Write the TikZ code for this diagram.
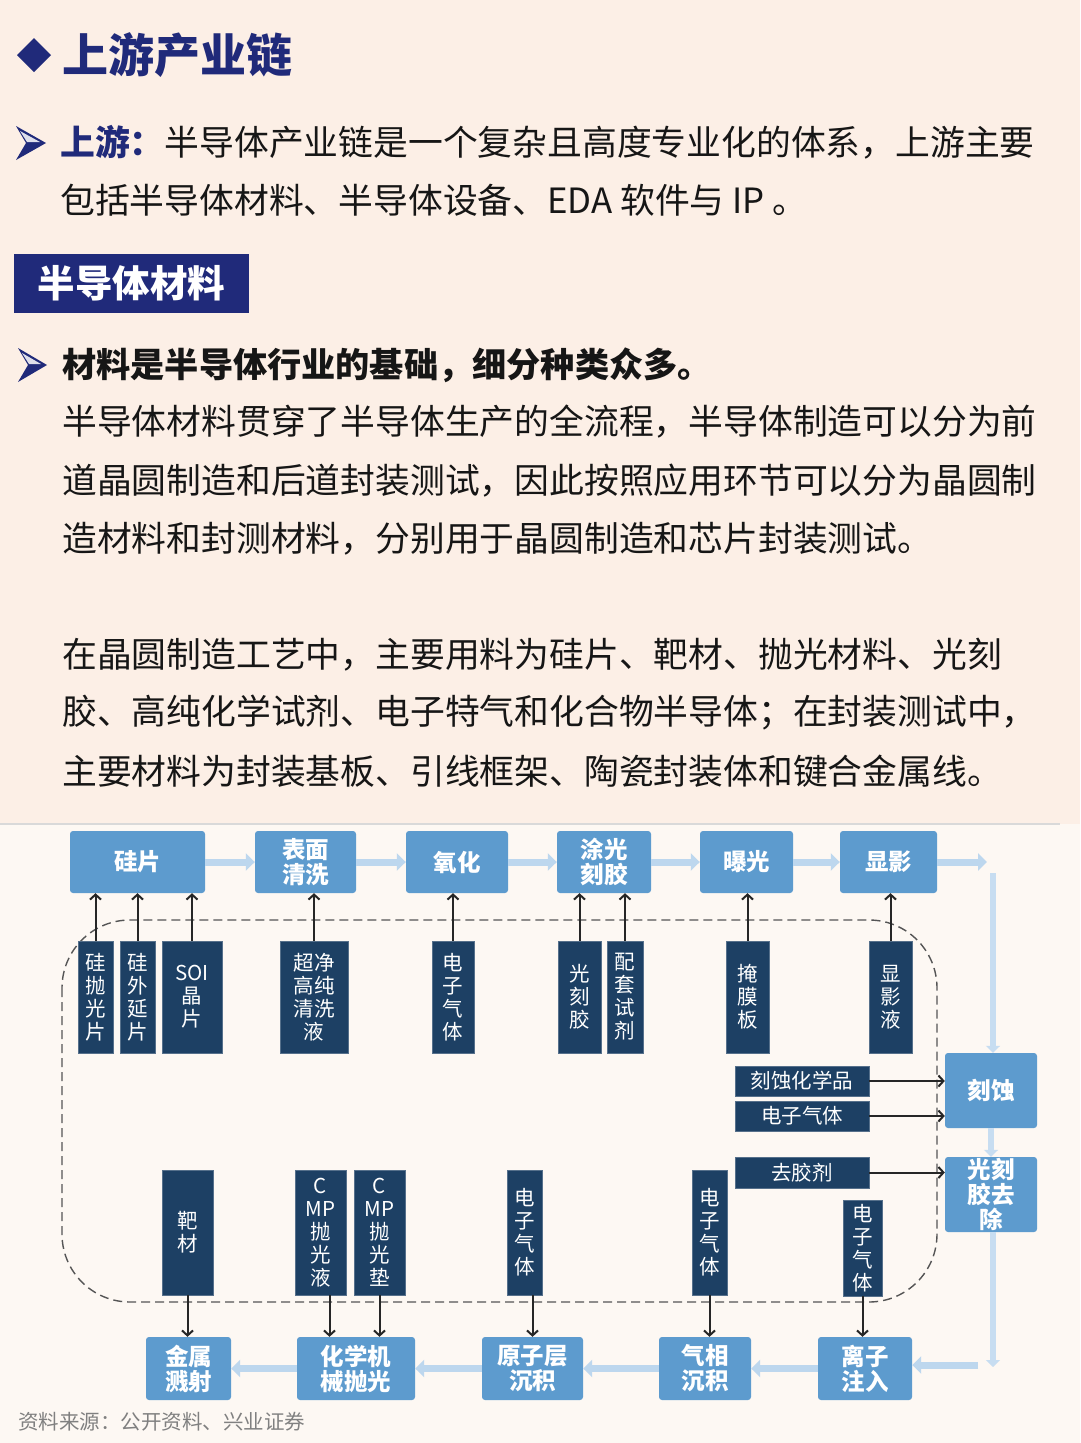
\documentclass[tikz,border=0pt]{standalone}
\usepackage{fontspec}
\setmainfont{Noto Sans CJK SC}
\usetikzlibrary{arrows.meta}
\definecolor{bgtop}{RGB}{252,239,230}
\definecolor{bgbot}{RGB}{253,248,243}
\definecolor{navy}{RGB}{32,42,122}
\definecolor{procblue}{RGB}{93,155,206}
\definecolor{flowblue}{RGB}{189,215,238}
\definecolor{darkbox}{RGB}{29,64,100}
\definecolor{txt}{RGB}{22,22,22}
\definecolor{dashgray}{RGB}{85,85,85}
\begin{document}
\begin{tikzpicture}[x=1pt,y=-1pt,
  proc/.style={fill=procblue,rounded corners=3pt,inner sep=0pt,text=white,font=\fontsize{23.5}{25}\selectfont\bfseries,align=center},
  mat/.style={fill=darkbox,draw=darkbox!75!white,line width=0.6pt,inner sep=0pt,text=white,font=\fontsize{20.5}{23}\selectfont,align=center},
  flow/.style={draw=flowblue,line width=7pt,-{Triangle[length=9pt,width=17pt]}},
  vflow/.style={draw=flowblue!85!white,line width=6pt,-{Triangle[length=7pt,width=14pt]}},
  feed/.style={draw=black!85,line width=2pt,-{Straight Barb[length=5pt,width=11pt]}},
  body/.style={anchor=west,inner sep=0pt,text=txt,font=\fontsize{34.8}{40}\selectfont},
]
\useasboundingbox (0,0) rectangle (1080,1443);
\fill[bgtop] (0,0) rectangle (1080,824);
\fill[bgbot] (0,824) rectangle (1080,1443);
\draw[black!15,line width=1.5pt] (0,824) -- (1060,824);

% ---------- title ----------
\fill[navy] (34,38) -- (51,55) -- (34,72) -- (17,55) -- cycle;
\node[anchor=west,inner sep=0pt,text=navy,font=\fontsize{46}{50}\selectfont\bfseries] (title) at (62,55) {上游产业链};

% bullet 1
\fill[navy] (16,126) -- (46,143) -- (16,160) -- (26,143) -- cycle;
\fill[white!85!navy] (20,131) -- (40,142) -- (27,142) -- cycle;
\node[body] (l1) at (60,142) {{\color{navy}\bfseries 上游：}半导体产业链是一个复杂且高度专业化的体系，上游主要};
\node[body] (l2) at (60,200) {包括半导体材料、半导体设备、EDA 软件与 IP 。};

% section box
\node[fill=navy,minimum width=235,minimum height=59,inner sep=0pt,text=white,font=\fontsize{37.5}{40}\selectfont\bfseries] (sec) at (131.5,283.5) {半导体材料};

% bullet 2
\fill[navy] (18,348) -- (47,365) -- (18,382) -- (28,365) -- cycle;
\fill[white!85!navy] (22,353) -- (41,364) -- (29,364) -- cycle;
\node[body,font=\fontsize{34.2}{40}\selectfont\bfseries] (h2) at (62,365) {材料是半导体行业的基础，细分种类众多。};
\node[body] (p1) at (62,422) {半导体材料贯穿了半导体生产的全流程，半导体制造可以分为前};
\node[body] (p2) at (62,481) {道晶圆制造和后道封装测试，因此按照应用环节可以分为晶圆制};
\node[body] (p3) at (62,539) {造材料和封测材料，分别用于晶圆制造和芯片封装测试。};
\node[body] (p4) at (62,655) {在晶圆制造工艺中，主要用料为硅片、靶材、抛光材料、光刻};
\node[body] (p5) at (62,713) {胶、高纯化学试剂、电子特气和化合物半导体；在封装测试中，};
\node[body] (p6) at (62,771) {主要材料为封装基板、引线框架、陶瓷封装体和键合金属线。};

% ---------- diagram ----------
\draw[dashgray,line width=1.4pt,dash pattern=on 9pt off 5pt,rounded corners=68pt] (62,920) rectangle (937,1302);

% top process boxes
\node[proc,minimum width=135,minimum height=62] (pa) at (137.5,862) {硅片};
\node[proc,minimum width=101,minimum height=62] (pb) at (305.5,862) {表面\\清洗};
\node[proc,minimum width=102,minimum height=62] (pc) at (457,862) {氧化};
\node[proc,minimum width=94,minimum height=62] (pd) at (604,862) {涂光\\刻胶};
\node[proc,minimum width=93,minimum height=62] (pe) at (746.5,862) {曝光};
\node[proc,minimum width=97,minimum height=62] (pf) at (888.5,862) {显影};
% right column
\node[proc,minimum width=92,minimum height=75] (pg) at (991,1090.5) {刻蚀};
\node[proc,minimum width=92,minimum height=75] (ph) at (991,1194.5) {光刻\\胶去\\除};
% bottom row
\node[proc,minimum width=94,minimum height=63] (pi) at (865,1368.5) {离子\\注入};
\node[proc,minimum width=92,minimum height=63] (pj) at (705,1368.5) {气相\\沉积};
\node[proc,minimum width=101,minimum height=63] (pk) at (532.5,1368.5) {原子层\\沉积};
\node[proc,minimum width=118,minimum height=63] (pl) at (356,1368.5) {化学机\\械抛光};
\node[proc,minimum width=85,minimum height=63] (pm) at (188.5,1368.5) {金属\\溅射};

% flow arrows
\draw[flow] (pa.east) -- (pb.west);
\draw[flow] (pb.east) -- (pc.west);
\draw[flow] (pc.east) -- (pd.west);
\draw[flow] (pd.east) -- (pe.west);
\draw[flow] (pe.east) -- (pf.west);
\coordinate (c1) at (987,862);
\draw[flow] (pf.east) -- (c1);
\coordinate (c2) at (993,873);
\draw[vflow] (c2) -- (c2 |- pg.north);
\draw[vflow] (pg.south) -- (ph.north);
\coordinate (c3) at (993,1367);
\draw[vflow] (c3 |- ph.south) -- (c3);
\coordinate (c4) at (978,1365);
\draw[flow] (c4) -- (c4 -| pi.east);
\draw[flow] (pi.west) -- (pj.east);
\draw[flow] (pj.west) -- (pk.east);
\draw[flow] (pk.west) -- (pl.east);
\draw[flow] (pl.west) -- (pm.east);

% top materials
\node[mat,minimum width=35,minimum height=112] (ma) at (95.5,997) {硅\\抛\\光\\片};
\node[mat,minimum width=35,minimum height=112] (mb) at (137.5,997) {硅\\外\\延\\片};
\node[mat,minimum width=60,minimum height=112] (mc) at (192,997) {SOI\\晶\\片};
\node[mat,minimum width=68,minimum height=112] (md) at (314,997) {超净\\高纯\\清洗\\液};
\node[mat,minimum width=42,minimum height=112] (me) at (453,997) {电\\子\\气\\体};
\node[mat,minimum width=43,minimum height=112] (mf) at (579.5,997) {光\\刻\\胶};
\node[mat,minimum width=36,minimum height=112] (mg) at (625,997) {配\\套\\试\\剂};
\node[mat,minimum width=43,minimum height=112] (mh) at (747.5,997) {掩\\膜\\板};
\node[mat,minimum width=43,minimum height=112] (mi) at (890.5,997) {显\\影\\液};

\foreach \m/\p in {ma/pa,mb/pa,mc/pa,md/pb,me/pc,mf/pd,mg/pd,mh/pe,mi/pf}
  \draw[feed] (\m.north) -- (\m.north |- \p.south);

% side materials
\node[mat,minimum width=134,minimum height=30] (sa) at (802,1081) {刻蚀化学品};
\node[mat,minimum width=134,minimum height=30] (sb) at (802,1116) {电子气体};
\node[mat,minimum width=134,minimum height=31] (sc) at (802,1172.5) {去胶剂};
\draw[feed] (sa.east) -- (sa.east -| pg.west);
\draw[feed] (sb.east) -- (sb.east -| pg.west);
\draw[feed] (sc.east) -- (sc.east -| ph.west);

% bottom materials
\node[mat,minimum width=51,minimum height=125] (ba) at (187.5,1232.5) {靶\\材};
\node[mat,minimum width=51,minimum height=125] (bb) at (320.5,1232.5) {C\\MP\\抛\\光\\液};
\node[mat,minimum width=51,minimum height=125] (bc) at (379.5,1232.5) {C\\MP\\抛\\光\\垫};
\node[mat,minimum width=35,minimum height=125] (bd) at (524.5,1232.5) {电\\子\\气\\体};
\node[mat,minimum width=35,minimum height=125] (be) at (709.5,1232.5) {电\\子\\气\\体};
\node[mat,minimum width=39,minimum height=96] (bf) at (862.5,1248) {电\\子\\气\\体};

\draw[feed] (ba.south) -- (ba.south |- pm.north);
\draw[feed] ([xshift=9pt]bb.south) -- ([xshift=9pt]bb.south |- pl.north);
\draw[feed] (bc.south) -- (bc.south |- pl.north);
\draw[feed] (pk.north |- bd.south) -- (pk.north);
\draw[feed] (be.south) -- (be.south |- pj.north);
\draw[feed] (bf.south) -- (bf.south |- pi.north);

% source
\node[anchor=west,inner sep=0pt,text=black!50,font=\fontsize{20.5}{24}\selectfont] (src) at (18,1422) {资料来源：公开资料、兴业证券};
\end{tikzpicture}
\end{document}
